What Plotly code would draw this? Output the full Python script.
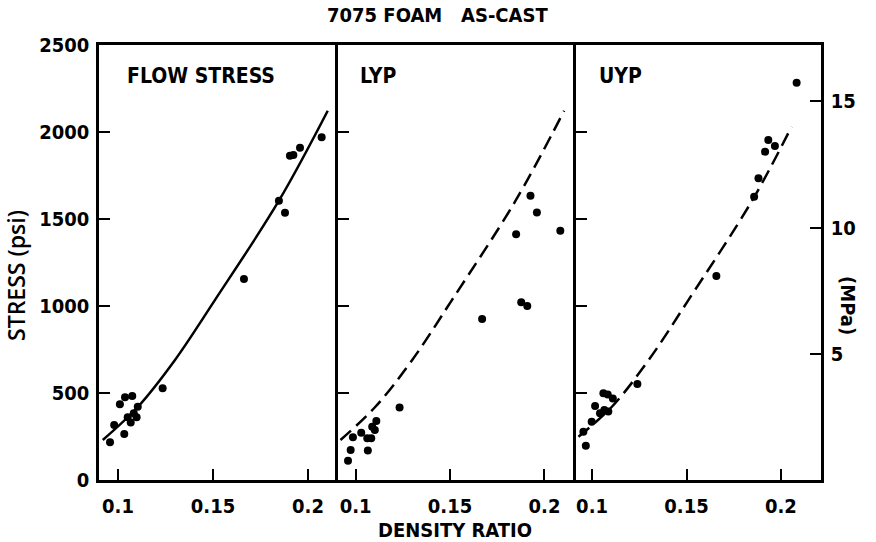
import plotly.graph_objects as go

# ---- data -------------------------------------------------------------
PSI_PER_MPA = 145.038

# FLOW STRESS panel
flow_x = [0.0958, 0.098, 0.1033, 0.101, 0.1037, 0.1075, 0.1051, 0.1067, 0.1098,
          0.1104, 0.1083, 0.1235, 0.1663, 0.1847, 0.1879, 0.1905, 0.1923, 0.1958, 0.2072]
flow_y = [217, 316, 264, 435, 475, 483, 360, 330, 360,
          421, 383, 527, 1155, 1605, 1536, 1864, 1868, 1910, 1970]

# LYP panel
lyp_x = [0.096, 0.0974, 0.0986, 0.103, 0.1062, 0.1083, 0.1065, 0.1088, 0.111,
         0.1102, 0.1233, 0.167, 0.185, 0.1877, 0.1909, 0.1926, 0.196, 0.2084]
lyp_y = [111, 172, 245, 272, 240, 240, 169, 306, 339,
         287, 416, 925, 1412, 1021, 1000, 1634, 1538, 1433]

# UYP panel
uyp_x = [0.0967, 0.0954, 0.0998, 0.1016, 0.106, 0.1083, 0.111, 0.1065, 0.1086,
         0.1042, 0.124, 0.1658, 0.1858, 0.1881, 0.1916, 0.1933, 0.1968, 0.2083]
uyp_y = [197, 278, 335, 425, 498, 492, 469, 402, 393,
         383, 552, 1172, 1628, 1734, 1887, 1954, 1920, 2283]

# model curve drawn in each panel
curve_x = [0.092, 0.1105, 0.130, 0.151, 0.1847, 0.2104]
curve_y = [230, 421, 690, 1034, 1605, 2122]
curve3_x = [0.0928, 0.1105, 0.130, 0.151, 0.1847, 0.2056]
curve3_y = [249, 421, 690, 1034, 1605, 2030]

x_tickvals = [0.1, 0.15, 0.2]
x_ticktext = ["0.1", "0.15", "0.2"]
psi_ticks = [0, 500, 1000, 1500, 2000, 2500]
mpa_ticks = [5, 10, 15]

panel_names = ["FLOW STRESS", "LYP", "UYP"]

# ---- figure -----------------------------------------------------------
FONT = "DejaVu Sans Condensed"
W, H = 876, 542
L, R, T, B = 99, 55, 45, 62
pw = W - L - R
d1 = (338 - L) / pw
d2 = (576 - L) / pw

fig = go.Figure()

marker = dict(color="black", size=8)
fig.add_trace(go.Scatter(x=flow_x, y=flow_y, mode="markers", marker=marker,
                         xaxis="x", yaxis="y", showlegend=False))
fig.add_trace(go.Scatter(x=curve_x, y=curve_y, mode="lines", line_shape="spline",
                         line=dict(color="black", width=2.5),
                         xaxis="x", yaxis="y", showlegend=False))

fig.add_trace(go.Scatter(x=lyp_x, y=lyp_y, mode="markers", marker=marker,
                         xaxis="x2", yaxis="y2", showlegend=False))
fig.add_trace(go.Scatter(x=curve_x, y=curve_y, mode="lines", line_shape="spline",
                         line=dict(color="black", width=2.5, dash="14px,7px"),
                         xaxis="x2", yaxis="y2", showlegend=False))

fig.add_trace(go.Scatter(x=uyp_x, y=uyp_y, mode="markers", marker=marker,
                         xaxis="x3", yaxis="y3", showlegend=False))
fig.add_trace(go.Scatter(x=curve3_x, y=curve3_y, mode="lines", line_shape="spline",
                         line=dict(color="black", width=2.5, dash="14px,7px"),
                         xaxis="x3", yaxis="y3", showlegend=False))

tickfont = dict(family=FONT, size=20, color="black", weight="bold")
xcommon = dict(tickvals=x_tickvals, ticktext=x_ticktext, ticks="inside",
               ticklen=11, tickwidth=2, tickcolor="black", showline=True,
               linecolor="black", linewidth=2.5, mirror=True, showgrid=False,
               zeroline=False, tickfont=tickfont, ticklabelstandoff=6,
               fixedrange=True)
ycommon = dict(range=[0, 2500], tickvals=psi_ticks, ticks="inside", ticklen=11,
               tickwidth=2, tickcolor="black", showline=True, linecolor="black",
               linewidth=2.5, showgrid=False, zeroline=False,
               tickfont=tickfont, ticklabelstandoff=3, fixedrange=True)

fig.update_layout(
    width=W, height=H,
    margin=dict(l=L, r=R, t=T, b=B),
    paper_bgcolor="white", plot_bgcolor="white",
    xaxis=dict(domain=[0, d1], range=[0.0900, 0.2158], anchor="y", **xcommon),
    xaxis2=dict(domain=[d1, d2], range=[0.0907, 0.2167], anchor="y2", **xcommon),
    xaxis3=dict(domain=[d2, 1], range=[0.0915, 0.2212], anchor="y3", **xcommon),
    yaxis=dict(anchor="x", mirror=False, **ycommon),
    yaxis2=dict(anchor="x2", mirror=False, showticklabels=False, **ycommon),
    yaxis3=dict(anchor="x3", mirror=False, showticklabels=False, **ycommon),
    yaxis4=dict(anchor="x3", overlaying="y3", side="right",
                range=[0, 2500 / PSI_PER_MPA], tickvals=mpa_ticks,
                ticks="inside", ticklen=11, tickwidth=2, tickcolor="black",
                showline=True, linecolor="black", linewidth=2.5,
                showgrid=False, zeroline=False, tickfont=tickfont,
                ticklabelstandoff=3, fixedrange=True),
)

# keep the MPa axis visible with an invisible trace
fig.add_trace(go.Scatter(x=[0.15], y=[1], mode="markers", marker=dict(opacity=0),
                         xaxis="x3", yaxis="y4", showlegend=False, hoverinfo="skip"))

def px_x(px):
    return (px - L) / pw

def px_y(py):
    return 1 - (py - T) / (H - T - B)

lab = dict(family=FONT, size=20, color="black", weight="bold")
centered = dict(xref="paper", yref="paper", showarrow=False,
                xanchor="center", yanchor="middle")
fig.add_annotation(text="7075 FOAM   AS-CAST", x=px_x(437), y=px_y(15),
                   font=lab, **centered)
fig.add_annotation(text="DENSITY RATIO", x=px_x(455), y=px_y(530),
                   font=lab, **centered)
fig.add_annotation(text="STRESS (psi)", x=px_x(16), y=px_y(276),
                   font=dict(family="Open Sans", size=23, color="black", weight=600),
                   textangle=-90, **centered)
fig.add_annotation(text="(MPa)", x=px_x(848), y=px_y(305),
                   font=lab, textangle=90, **centered)

for name, cx in zip(panel_names, [125, 358, 597]):
    fig.add_annotation(text=name, xref="paper", yref="paper",
                       x=px_x(cx), y=px_y(76), xanchor="left", yanchor="middle",
                       showarrow=False, font=dict(lab, size=21))

fig.write_html("out.html")
